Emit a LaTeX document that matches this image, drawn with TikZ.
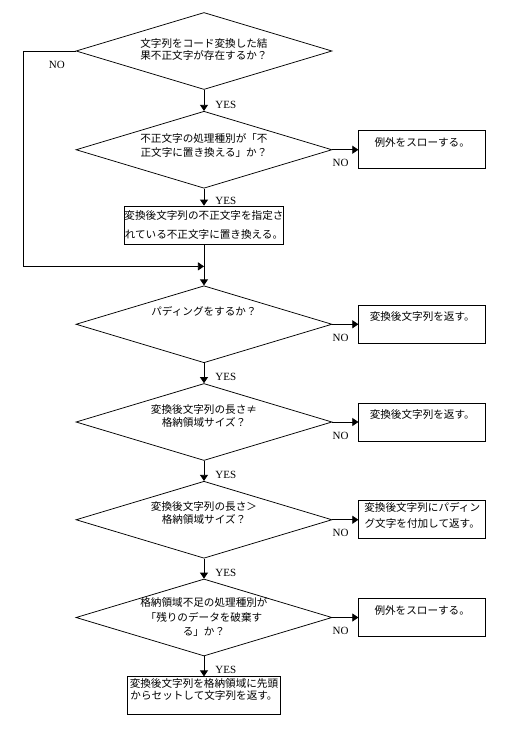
\documentclass[tikz,border=0pt]{standalone}
\usepackage{fontspec}
\setmainfont{Liberation Serif}
\newfontfamily\jpfont{Noto Sans CJK JP}
\usepackage{tikz}
\usetikzlibrary{arrows.meta, shapes.geometric, positioning}

\begin{document}
\begin{tikzpicture}[
        x=1pt, y=1pt,
        line width=0.75pt,
        node distance=20pt and 26pt,
        decision/.style={
            diamond,
            draw,
            minimum width=256pt,
            minimum height=77pt,
            inner sep=0pt
        },
        condtext/.style={
            anchor=north,
            yshift=-21pt,
            align=center,
            inner sep=0pt,
            font=\jpfont\fontsize{10.6}{13}\selectfont
        },
        process/.style={
            rectangle,
            draw,
            align=center,
            minimum width=158pt,
            inner sep=0pt,
            text height=32.5pt,
            text depth=5.5pt,
            font=\jpfont\fontsize{10.6}{13}\selectfont
        },
        endbox/.style={
            rectangle,
            draw,
            align=center,
            text width=127pt,
            inner sep=0pt,
            text height=15.5pt,
            text depth=22.5pt,
            font=\jpfont\fontsize{10.6}{13}\selectfont
        },
        arrow/.style={
            -{Triangle[length=6pt,width=8pt]}
        },
        yeslabel/.style={
            anchor=west,
            pos=0.7,
            xshift=11pt,
            inner sep=0pt,
            font=\fontsize{11}{13}\selectfont
        },
        nolabel/.style={
            anchor=north west,
            pos=0,
            yshift=-9.5pt,
            inner sep=0pt,
            font=\fontsize{11}{13}\selectfont
        }
    ]

    \useasboundingbox (-204,51) rectangle (324,-681);

    % ノード
    \node[decision] (q1) {};
    \node[condtext, yshift=-5pt] (q1t) at (q1.north) {
        文字列をコード変換した結\\[-1pt]
        果不正文字が存在するか？
    };

    \node[decision, below=21pt of q1] (q2) {};
    \node[condtext, yshift=-1.5pt] (q2t) at (q2.north) {
        不正文字の処理種別が「不\\[1pt]
        正文字に置き換える」か？
    };
    \node[endbox, right=of q2] (throw1) {例外をスローする。};

    \node[process, below=17pt of q2] (replace) {
        変換後文字列の不正文字を指定さ\\[6pt]
        れている不正文字に置き換える。
    };

    \coordinate[below=22pt of replace] (join);

    \node[decision, below=19pt of join] (q3) {};
    \node[condtext, yshift=0.5pt] (q3t) at (q3.north) {パディングをするか？};
    \node[endbox, right=of q3] (ret1) {変換後文字列を返す。};

    \node[decision, below=of q3] (q4) {};
    \node[condtext] (q4t) at (q4.north) {
        変換後文字列の長さ≠\\
        格納領域サイズ？
    };
    \node[endbox, right=of q4] (ret2) {変換後文字列を返す。};

    \node[decision, below=of q4] (q5) {};
    \node[condtext, yshift=0.5pt] (q5t) at (q5.north) {
        変換後文字列の長さ＞\\
        格納領域サイズ？
    };
    \node[endbox, right=of q5, text height=10.5pt, text depth=27.5pt] (padret) {
        変換後文字列にパディン\\[3pt]
        グ文字を付加して返す。
    };

    \node[decision, below=of q5] (q6) {};
    \node[condtext, yshift=2pt] (q6t) at (q6.north) {
        格納領域不足の処理種別が\\[1.5pt]
        「残りのデータを破棄す\\[1.5pt]
        る」か？
    };
    \node[endbox, right=of q6] (throw2) {例外をスローする。};

    \node[process, below=of q6, minimum width=153pt, text height=23pt, text depth=15pt] (setret) {
        変換後文字列を格納領域に先頭\\[-1pt]
        からセットして文字列を返す。
    };

    % 矢印
    \draw[arrow] (q1) -- node[yeslabel] {YES} (q2);
    \draw[arrow] (q1.west) -- node[nolabel, anchor=north, pos=0.36] {NO} ++(-52pt,0) |- (join);
    \draw[arrow] (q2) -- node[nolabel] {NO} (throw1);
    \draw[arrow] (q2) -- node[yeslabel] {YES} (replace);
    \draw (replace) -- (join);
    \draw[arrow] (join) -- (q3);

    \draw[arrow] (q3) -- node[nolabel] {NO} (ret1);
    \draw[arrow] (q3) -- node[yeslabel] {YES} (q4);
    \draw[arrow] (q4) -- node[nolabel] {NO} (ret2);
    \draw[arrow] (q4) -- node[yeslabel] {YES} (q5);
    \draw[arrow] (q5) -- node[nolabel] {NO} (padret);
    \draw[arrow] (q5) -- node[yeslabel] {YES} (q6);
    \draw[arrow] (q6) -- node[nolabel] {NO} (throw2);
    \draw[arrow] (q6) -- node[yeslabel] {YES} (setret);

\end{tikzpicture}
\end{document}
